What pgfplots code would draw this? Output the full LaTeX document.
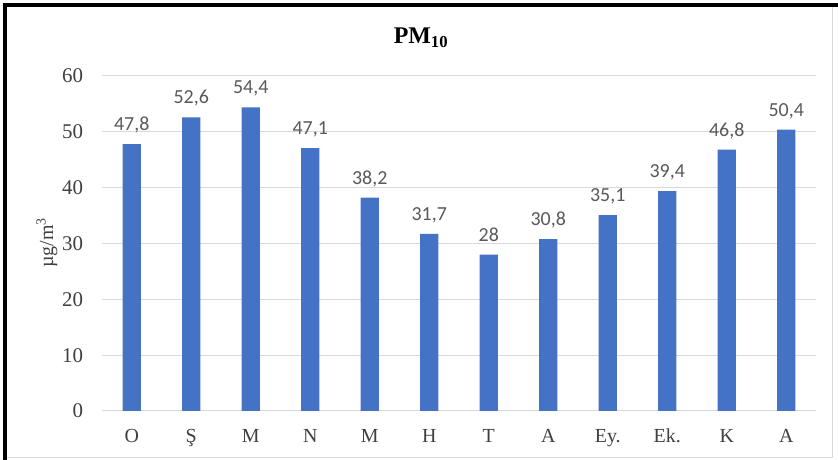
\documentclass[border=0pt]{standalone}
\usepackage{pgfplots}
\pgfplotsset{compat=1.18}
\usepackage{fontspec}
\setmainfont{Liberation Serif}
\newfontfamily\calibri{Carlito}

\definecolor{barblue}{HTML}{4472C4}
\definecolor{gridgray}{HTML}{D9D9D9}
\definecolor{lblgray}{HTML}{595959}
\definecolor{txtgray}{HTML}{404040}

% station, value, label as printed
\pgfplotstableread{
x  y     label
0  47.8  47,8
1  52.6  52,6
2  54.4  54,4
3  47.1  47,1
4  38.2  38,2
5  31.7  31,7
6  28.0  28
7  30.8  30,8
8  35.1  35,1
9  39.4  39,4
10 46.8  46,8
11 50.4  50,4
}\pmdata

\begin{document}
\begin{tikzpicture}[x=1bp,y=1bp]
\useasboundingbox (0,0) rectangle (838,460);
\fill[white] (0,0) rectangle (838,460);
% frame
\draw[gridgray, line width=1bp] (5.3,2) -- (832,2) -- (832,454.6);
\draw[black, line width=4bp] (5.3,0) -- (5.3,454.6) -- (838,454.6);

\begin{axis}[
  at={(102bp,49bp)}, anchor=south west,
  scale only axis, width=714bp, height=335bp,
  xmin=-0.5, xmax=11.5, ymin=0, ymax=60,
  xtick={0,...,11},
  xticklabels={O,Ş,M,N,M,H,T,A,Ey.,Ek.,K,A},
  ytick={0,10,...,60},
  major tick length=0,
  axis line style={draw=none},
  ymajorgrids,
  grid style={gridgray, line width=1bp},
  /pgf/number format/assume math mode=true,
  yticklabel style={font=\fontsize{21}{24}\selectfont, color=txtgray,
    anchor=east, inner sep=0pt, xshift=-18.7bp},
  xticklabel style={font=\fontsize{20}{24}\selectfont, color=txtgray,
    anchor=base, inner sep=0pt, yshift=-31.7bp},
  clip=false,
]
\addplot[ybar, bar width=18.3bp, fill=barblue, draw=none,
  nodes near coords, point meta=explicit symbolic,
  nodes near coords align={anchor=base},
  nodes near coords style={font=\calibri\fontsize{20}{24}\selectfont,
    color=lblgray, inner sep=0pt, yshift=13.5bp}]
  table[x=x, y=y, meta=label] {\pmdata};
\end{axis}

\node[font=\bfseries\fontsize{24}{28}\selectfont, anchor=base] at (421,416.7) {PM\textsubscript{10}};
\node[rotate=90, font=\fontsize{20}{24}\selectfont, color=txtgray] at (47,217) {µg/m\textsuperscript{3}};
\end{tikzpicture}
\end{document}
